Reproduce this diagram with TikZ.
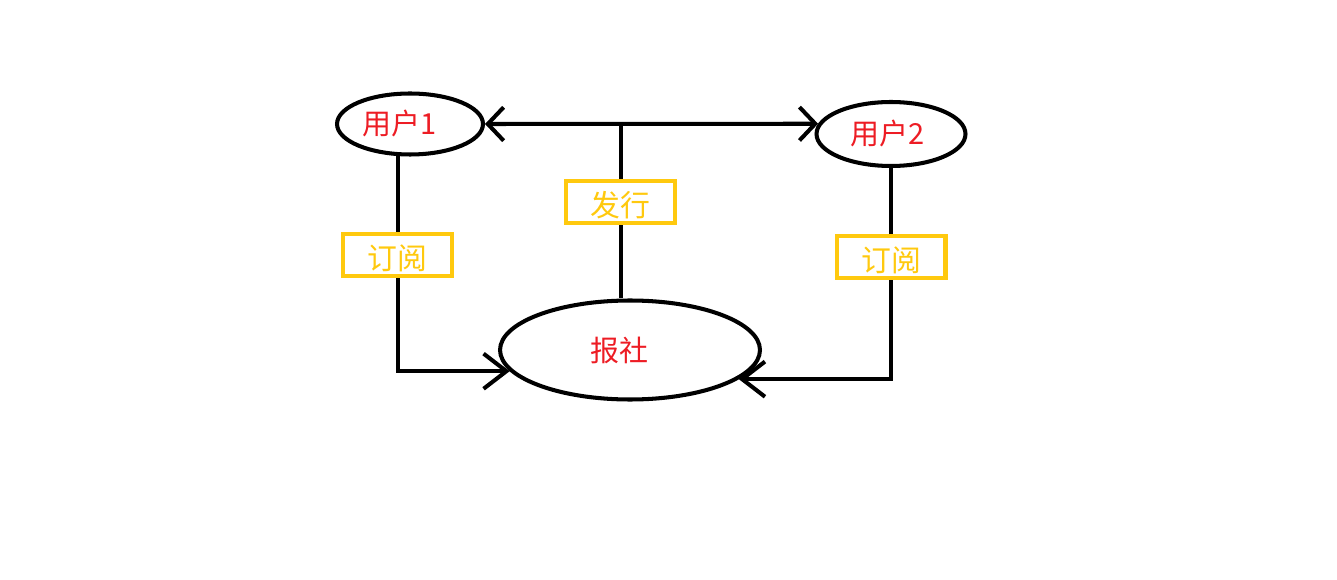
\documentclass[tikz,border=0pt]{standalone}
\usepackage{fontspec}
\setmainfont{Noto Sans CJK SC}
\usetikzlibrary{shapes.geometric, positioning, arrows.meta, calc}
\definecolor{paintred}{HTML}{ED1C24}
\definecolor{paintgold}{HTML}{FFC90E}
\tikzset{
  party/.style={ellipse, draw=black, line width=2.3pt, text=paintred, inner sep=0pt, font=\fontsize{16.5}{19}\selectfont},
  tag/.style={rectangle, draw=paintgold, fill=white, line width=2.3pt, text=paintgold, minimum width=2.18cm, minimum height=0.84cm, inner sep=0pt, text height=0.7cm, text depth=0.1cm, font=\fontsize{17}{20}\selectfont},
  arrow/.style={line width=2.3pt, -{Straight Barb[length=13pt, width=20pt, line width=2.3pt]}},
  twoway/.style={line width=2.3pt, {Straight Barb[length=9pt, width=19pt, line width=2.3pt]}-{Straight Barb[length=9pt, width=19pt, line width=2.3pt]}}
}

\begin{document}
\begin{tikzpicture}[
            x=0.02cm, y=-0.02cm
        ]
            \useasboundingbox (0,0) rectangle (1337,580);

            % Nodos Principales
            \node (user1) [party, minimum width=2.92cm, minimum height=1.22cm] at (410,124) {用户1\kern0.4cm};
            \node (user2) [party, minimum width=2.98cm, minimum height=1.28cm] at (891,134) {用户2\kern0.12cm};
            \node (paper) [party, minimum width=5.2cm, minimum height=1.98cm] at (630,350) {报社\kern0.44cm};

            % Publicar hacia los usuarios
            \draw [twoway] (user1.east) -- (user2.172);
            \coordinate (fork) at ($(user1.east)!0.407!(user2.172)$);
            \draw [line width=2.3pt] (fork) -- node[tag, pos=0.446] {发行} (paper.north -| fork);

            % Suscripciones
            \draw [arrow] (user1.249) |- node[tag, pos=0.229] {订阅} (paper.190);
            \draw [arrow] (user2.south) |- node[tag, pos=0.21] {订阅} (paper.345);

        \end{tikzpicture}
\end{document}
